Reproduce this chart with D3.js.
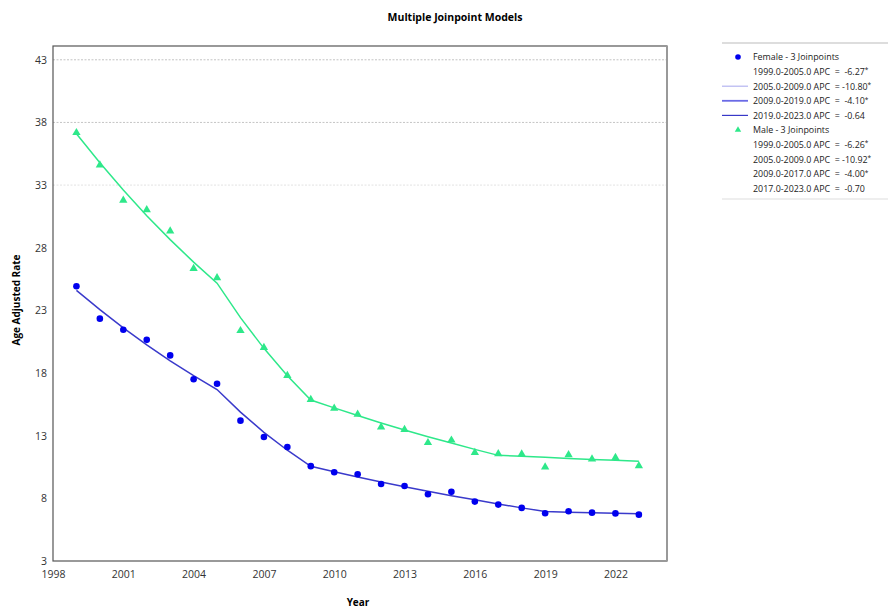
<!DOCTYPE html>
<html><head><meta charset="utf-8">
<script src="https://cdn.jsdelivr.net/npm/d3@7/dist/d3.min.js"></script>
<style>body{margin:0;background:#fff;font-family:"Open Sans","Noto Sans",sans-serif;} .lt{white-space:pre;}</style>
</head><body><svg id="c" width="888" height="609"></svg>
<script>
const years = [1999,2000,2001,2002,2003,2004,2005,2006,2007,2008,2009,2010,2011,2012,2013,2014,2015,2016,2017,2018,2019,2020,2021,2022,2023];
const femaleObs = [24.93,22.34,21.46,20.65,19.41,17.5,17.15,14.2,12.9,12.1,10.57,10.08,9.92,9.14,8.99,8.33,8.52,7.74,7.5,7.24,6.81,6.97,6.86,6.8,6.7];
const femaleFit = [24.60,23.06,21.61,20.25,18.98,17.79,16.68,14.88,13.27,11.84,10.56,10.13,9.71,9.31,8.93,8.56,8.21,7.88,7.55,7.24,6.95,6.90,6.86,6.81,6.77];
const maleObs = [37.18,34.6,31.78,31.03,29.33,26.33,25.6,21.38,20.04,17.8,15.88,15.19,14.71,13.69,13.49,12.44,12.64,11.66,11.55,11.53,10.49,11.47,11.13,11.26,10.6];
const maleFit = [37.10,34.78,32.60,30.56,28.65,26.85,25.17,22.42,19.97,17.79,15.85,15.22,14.61,14.02,13.46,12.92,12.41,11.91,11.43,11.35,11.27,11.19,11.11,11.04,10.96];
const xTicks = [1998,2001,2004,2007,2010,2013,2016,2019,2022];
const yTicks = [3,8,13,18,23,28,33,38,43];
const gridTicks = [33,38,43];
const femaleLegend = ["1999.0-2005.0 APC  =  -6.27","2005.0-2009.0 APC  = -10.80","2009.0-2019.0 APC  =  -4.10","2019.0-2023.0 APC  =  -0.64"];
const femaleSig = [true,true,true,false];
const maleLegend = ["1999.0-2005.0 APC  =  -6.26","2005.0-2009.0 APC  = -10.92","2009.0-2017.0 APC  =  -4.00","2017.0-2023.0 APC  =  -0.70"];
const maleSig = [true,true,true,false];

const svg = d3.select("#c");
const L=53, T=46, R=667, B=561;
const x = d3.scaleLinear().domain([1998,2024.2]).range([L,R]);
const y = d3.scaleLinear().domain([3,44.1]).range([B,T]);

const fCol="#0000ee", fLine="#3a3acb", mCol="#2ee88a";

svg.append("text").attr("x",455).attr("y",21).attr("text-anchor","middle")
  .attr("font-size",10.5).attr("font-weight","bold").text("Multiple Joinpoint Models");

svg.append("g").selectAll("line").data(gridTicks).join("line")
  .attr("x1",L).attr("x2",R).attr("y1",d=>y(d)).attr("y2",d=>y(d))
  .attr("stroke",d=>d===33?"#e2e2e2":"#c4c4c4").attr("stroke-dasharray","2,1.5").attr("stroke-width",1);

svg.append("rect").attr("x",L).attr("y",T).attr("width",R-L).attr("height",B-T)
  .attr("fill","none").attr("stroke","#555").attr("stroke-width",1.2);
svg.append("line").attr("x1",R).attr("x2",R).attr("y1",T).attr("y2",B).attr("stroke","#999").attr("stroke-width",2);

const xa = svg.append("g").attr("transform",`translate(0,${B})`)
  .call(d3.axisBottom(x).tickValues(xTicks).tickFormat(d3.format("d")).tickSize(0).tickPadding(10));
const ya = svg.append("g").attr("transform",`translate(${L},0)`)
  .call(d3.axisLeft(y).tickValues(yTicks).tickSize(0).tickPadding(6));
[xa,ya].forEach(a=>{a.select(".domain").remove();a.selectAll("text").attr("font-size",10.5).attr("fill","#333").attr("font-family","'Open Sans',sans-serif");});

svg.append("text").attr("x",358).attr("y",606).attr("text-anchor","middle").attr("font-size",10).attr("font-weight","bold").text("Year");
svg.append("text").attr("transform","translate(20,300) rotate(-90)").attr("text-anchor","middle").attr("font-size",10).attr("font-weight","bold").text("Age Adjusted Rate");

const line = d3.line().x((d,i)=>x(years[i])).y(d=>y(d));
svg.append("path").datum(maleFit).attr("d",line).attr("fill","none").attr("stroke",mCol).attr("stroke-width",1.5);
svg.append("path").datum(femaleFit).attr("d",line).attr("fill","none").attr("stroke",fLine).attr("stroke-width",1.5);

svg.append("g").selectAll("circle").data(femaleObs).join("circle")
  .attr("cx",(d,i)=>x(years[i])).attr("cy",d=>y(d)).attr("r",3.3).attr("fill",fCol);
const tri = d3.symbol().type(d3.symbolTriangle).size(30);
svg.append("g").selectAll("path").data(maleObs).join("path")
  .attr("transform",(d,i)=>`translate(${x(years[i])},${y(d)})`).attr("d",tri()).attr("fill",mCol);

// legend
const lg = svg.append("g");
lg.append("line").attr("x1",722).attr("x2",888).attr("y1",43).attr("y2",43).attr("stroke","#bbb");
lg.append("line").attr("x1",722).attr("x2",888).attr("y1",199).attr("y2",199).attr("stroke","#ddd");
const rowY = i=>57+i*14.6;
const FS=8.9;
function addText(t,yy,sig){
  const tx = lg.append("text").attr("class","lt").attr("x",753).attr("y",yy+3.3).attr("font-size",FS).attr("fill","#222").text(t);
  if(sig) tx.append("tspan").attr("font-size",6.5).attr("dy",-2.5).text("*");
}
lg.append("circle").attr("cx",738).attr("cy",rowY(0)).attr("r",2.8).attr("fill",fCol);
addText("Female - 3 Joinpoints",rowY(0),false);
const segCols=["#ffffff","#b4b4f0","#6a6ae6","#3838c8"];
femaleLegend.forEach((t,i)=>{
  lg.append("line").attr("x1",722).attr("x2",748).attr("y1",rowY(i+1)).attr("y2",rowY(i+1)).attr("stroke",segCols[i]).attr("stroke-width",i===2?1.8:1.2);
  addText(t,rowY(i+1),femaleSig[i]);
});
lg.append("path").attr("transform",`translate(738,${rowY(5)})`).attr("d",d3.symbol().type(d3.symbolTriangle).size(18)()).attr("fill",mCol);
addText("Male - 3 Joinpoints",rowY(5),false);
maleLegend.forEach((t,i)=>addText(t,rowY(i+6),maleSig[i]));
</script></body></html>
